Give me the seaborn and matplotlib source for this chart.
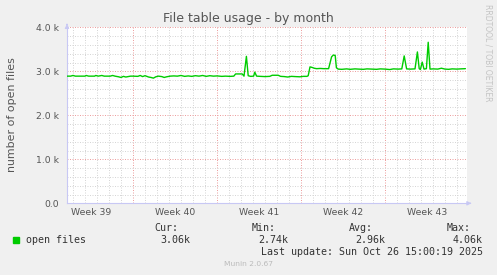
import matplotlib
matplotlib.use("Agg")
import matplotlib.pyplot as plt
import seaborn as sns
import pandas as pd
import numpy as np

# ---- data (x in days from plot start, y = open files) ----
days = [0.0, 0.3, 0.5, 0.7, 1.0, 1.5, 1.6, 1.8, 2.3, 2.4, 2.6, 2.9, 3.1, 3.6, 3.8,
        4.0, 4.3, 4.5, 4.7, 4.9, 5.3, 5.5, 5.9, 6.1, 6.3, 6.5, 6.8, 7.0, 7.2, 7.4,
        7.6, 7.9, 8.1, 8.3, 8.6, 8.9, 9.2, 9.5, 9.8, 10.1, 10.4, 10.7, 11.0, 11.3,
        11.6, 11.9, 12.2, 12.5, 12.9, 13.2, 13.6, 13.9, 14.05, 14.6, 14.75, 14.95,
        15.1, 15.3, 15.55, 15.65, 15.8, 16.1, 16.5, 16.9, 17.1, 17.6, 17.8, 18.1,
        18.4, 18.7, 19.0, 19.4, 19.7, 20.0, 20.1, 20.25, 20.4, 20.6, 20.8, 21.1,
        21.4, 21.8, 22.05, 22.2, 22.35, 22.45, 22.6, 22.9, 23.3, 23.6, 24.0, 24.3,
        24.7, 25.0, 25.4, 25.8, 26.1, 26.5, 26.9, 27.2, 27.6, 27.9, 28.1, 28.3,
        28.6, 29.0, 29.2, 29.35, 29.45, 29.6, 29.75, 29.95, 30.1, 30.25, 30.5,
        30.9, 31.2, 31.5, 31.8, 32.1, 32.5, 32.8, 33.2]
open_files = [2890, 2890, 2905, 2890, 2890, 2890, 2905, 2890, 2890, 2905, 2890,
              2905, 2890, 2890, 2905, 2890, 2875, 2860, 2885, 2870, 2890, 2890,
              2885, 2905, 2880, 2900, 2870, 2860, 2845, 2875, 2890, 2880, 2860,
              2875, 2890, 2895, 2890, 2905, 2885, 2895, 2885, 2900, 2890, 2905,
              2885, 2900, 2890, 2895, 2885, 2890, 2885, 2890, 2940, 2940, 2890,
              3340, 2900, 2885, 2890, 2980, 2890, 2885, 2880, 2885, 2910, 2910,
              2885, 2880, 2870, 2885, 2880, 2875, 2885, 2885, 2900, 3100, 3090,
              3070, 3060, 3065, 3060, 3060, 3330, 3370, 3360, 3080, 3050, 3045,
              3055, 3045, 3055, 3050, 3045, 3055, 3050, 3045, 3055, 3050, 3040,
              3055, 3050, 3055, 3350, 3055, 3050, 3055, 3440, 3060, 3040, 3210,
              3050, 3060, 3660, 3050, 3055, 3050, 3070, 3050, 3045, 3055, 3050,
              3055, 3060]

week_labels = ["Week 39", "Week 40", "Week 41", "Week 42", "Week 43"]
week_centers = [2.0, 9.0, 16.0, 23.0, 30.0]
week_bounds = [5.5, 12.5, 19.5, 26.5]
y_ticks = [0, 1000, 2000, 3000, 4000]
y_ticklabels = ["0.0", "1.0 k", "2.0 k", "3.0 k", "4.0 k"]

series_name = "open files"
stat_headers = ["Cur:", "Min:", "Avg:", "Max:"]
stat_values = ["3.06k", "2.74k", "2.96k", "4.06k"]
title = "File table usage - by month"
ylabel = "number of open files"
last_update = "Last update: Sun Oct 26 15:00:19 2025"
munin_ver = "Munin 2.0.67"
watermark = "RRDTOOL / TOBI OETIKER"

df = pd.DataFrame({"day": days, "value": open_files})

# ---- style ----
sns.set_style("white")
plt.rcParams["font.family"] = ["DejaVu Sans"]
BG = "#f0f0f0"
GREEN = "#00cc00"
W, H = 497, 275
fig = plt.figure(figsize=(W / 100, H / 100), dpi=100, facecolor=BG)
L, R, T, B = 67, 467, 27.3, 203.3
ax = fig.add_axes([L / W, 1 - B / H, (R - L) / W, (B - T) / H])
ax.set_facecolor("white")

sns.lineplot(data=df, x="day", y="value", ax=ax, color=GREEN, linewidth=1.0,
             zorder=5)

ax.set_xlim(0, 400 / 12)
ax.set_ylim(0, 4000)

# grid
ax.set_xticks(week_bounds)
ax.set_xticks([d + 0.5 for d in range(33)], minor=True)
ax.set_yticks(y_ticks)
ax.set_yticks(np.arange(0, 4001, 200), minor=True)
ax.set_xticklabels([])
ax.set_yticklabels(y_ticklabels, fontsize=6.7, color="#555555")
ax.grid(True, which="minor", color="#d6d6d6", linewidth=0.72,
        linestyle=(0, (1, 1.5)), zorder=1)
ax.grid(True, which="major", color="#eda0a0", linewidth=0.72,
        linestyle=(0, (1, 1.5)), zorder=2)
ax.tick_params(axis="both", which="both", length=0)
ax.tick_params(axis="y", which="major", length=3, color="#e8a8a8", pad=3)
ax.tick_params(axis="x", which="major", length=3, color="#e8a8a8", direction="out")

for s in ["top", "right"]:
    ax.spines[s].set_visible(False)
for s in ["left", "bottom"]:
    ax.spines[s].set_color("#c8c8f4")
    ax.spines[s].set_linewidth(0.8)

# axis arrows
ax.annotate("", xy=(1.018, 0), xytext=(1.0, 0), xycoords="axes fraction",
            arrowprops=dict(arrowstyle="-|>", color="#c8c8f4", lw=0.8,
                            mutation_scale=6), annotation_clip=False)
ax.annotate("", xy=(0, 1.035), xytext=(0, 1.0), xycoords="axes fraction",
            arrowprops=dict(arrowstyle="-|>", color="#c8c8f4", lw=0.8,
                            mutation_scale=6), annotation_clip=False)

ax.set_xlabel("")
ax.set_ylabel("")

# week labels
for c, lab in zip(week_centers, week_labels):
    ax.text(c, -0.053, lab, transform=ax.get_xaxis_transform(), ha="center",
            va="center", fontsize=6.7, color="#555555")

def fx(px):
    return px / W

def fy(py):
    return 1 - py / H

fig.text(fx(248), fy(18.5), title, ha="center", va="center", fontsize=9,
         color="#555555")
fig.text(fx(12), fy(115), ylabel, ha="center", va="center", rotation=90,
         fontsize=7.9, color="#555555")
fig.text(fx(488), fy(53), watermark, ha="center", va="center", rotation=270,
         fontsize=5.5, color="#c4c4c4")

MONO = "DejaVu Sans Mono"
fig.patches.append(plt.Rectangle((fx(13), fy(243)), 6 / W, 6 / H,
                                 transform=fig.transFigure, color=GREEN,
                                 figure=fig))
fig.text(fx(26), fy(240), series_name, ha="left", va="center", fontsize=7.2,
         family=MONO, color="#333333")
head_x = [154, 252, 349, 447]
val_x = [160, 258, 355, 453]
for hx, vx, h, v in zip(head_x, val_x, stat_headers, stat_values):
    fig.text(fx(hx), fy(228), h, ha="left", va="center", fontsize=7.2,
             family=MONO, color="#333333")
    fig.text(fx(vx), fy(240), v, ha="left", va="center", fontsize=7.2,
             family=MONO, color="#333333")
fig.text(fx(483), fy(252), last_update, ha="right", va="center", fontsize=7.2,
         family=MONO, color="#333333")
fig.text(fx(248), fy(264), munin_ver, ha="center", va="center", fontsize=5.4,
         color="#bbbbbb")

fig.savefig("out.png", dpi=100, facecolor=BG)
